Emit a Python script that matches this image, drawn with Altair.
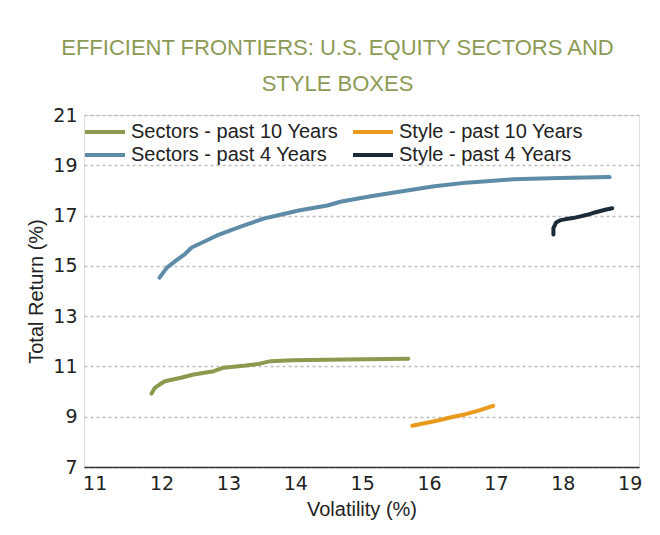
import altair as alt
import pandas as pd

series_names = ["Sectors - past 10 Years", "Sectors - past 4 Years",
                "Style - past 10 Years", "Style - past 4 Years"]
series_colors = ["#8A9A4E", "#5E8BA8", "#E99A1C", "#1B2A38"]

sec10_x = [11.85, 11.90, 11.97, 12.05, 12.29, 12.48, 12.78, 12.93, 13.26, 13.47, 13.63, 13.95, 14.75, 15.69]
sec10_y = [9.92, 10.15, 10.28, 10.41, 10.55, 10.68, 10.81, 10.95, 11.04, 11.11, 11.21, 11.25, 11.28, 11.31]

sec4_x = [11.97, 12.08, 12.21, 12.35, 12.45, 12.61, 12.82, 13.09, 13.30, 13.54, 13.73,
          14.05, 14.48, 14.69, 15.13, 15.60, 16.08, 16.56, 17.26, 17.95, 18.70]
sec4_y = [14.53, 14.93, 15.20, 15.47, 15.73, 15.93, 16.20, 16.47, 16.67, 16.89, 17.00,
          17.20, 17.40, 17.56, 17.77, 17.97, 18.17, 18.31, 18.44, 18.49, 18.53]

sty10_x = [15.75, 15.95, 16.15, 16.35, 16.55, 16.75, 16.96]
sty10_y = [8.64, 8.75, 8.86, 8.99, 9.10, 9.25, 9.43]

sty4_x = [17.86, 17.86, 17.90, 17.97, 18.05, 18.15, 18.25, 18.35, 18.45, 18.55, 18.65, 18.74]
sty4_y = [16.25, 16.50, 16.72, 16.82, 16.86, 16.90, 16.96, 17.02, 17.10, 17.17, 17.24, 17.29]

x_ticks = [11, 12, 13, 14, 15, 16, 17, 18, 19]
y_ticks = [7, 9, 11, 13, 15, 17, 19, 21]

rows = []
for name, xs, ys in [(series_names[0], sec10_x, sec10_y),
                     (series_names[1], sec4_x, sec4_y),
                     (series_names[2], sty10_x, sty10_y),
                     (series_names[3], sty4_x, sty4_y)]:
    for i, (xv, yv) in enumerate(zip(xs, ys)):
        rows.append({"series": name, "vol": xv, "ret": yv, "idx": i})
df = pd.DataFrame(rows)

LABEL_FONT = "Liberation Sans"

chart = alt.Chart(df).mark_line(strokeWidth=4, strokeCap="round", strokeJoin="round").encode(
    x=alt.X("vol:Q",
            scale=alt.Scale(domain=[10.84, 19.14], nice=False, zero=False),
            axis=alt.Axis(values=x_ticks, title="Volatility (%)", grid=False, ticks=False,
                          domainColor="#333333", domainWidth=1.6,
                          labelFont="DejaVu Sans", labelFontSize=19, labelColor="#222222",
                          labelPadding=7, labelFlush=False,
                          titleFont=LABEL_FONT, titleFontSize=20, titleFontWeight="normal",
                          titleColor="#222222", titlePadding=6)),
    y=alt.Y("ret:Q",
            scale=alt.Scale(domain=[7, 21], nice=False, zero=False),
            axis=alt.Axis(values=y_ticks, title="Total Return (%)", grid=True,
                          gridColor="#BDBDBD", gridDash=[3, 3], gridWidth=1.6,
                          ticks=False, domain=False,
                          labelFont="DejaVu Sans", labelFontSize=19, labelColor="#222222",
                          labelPadding=7,
                          titleFont=LABEL_FONT, titleFontSize=20, titleFontWeight="normal",
                          titleColor="#222222", titlePadding=6)),
    color=alt.Color("series:N",
                    scale=alt.Scale(domain=series_names, range=series_colors),
                    legend=alt.Legend(title=None, orient="none", legendX=3, legendY=5,
                                      columns=2, columnPadding=6, rowPadding=1,
                                      symbolType="M-2,0H2", symbolSize=400,
                                      symbolStrokeWidth=4, symbolOffset=6,
                                      labelOffset=14, labelLimit=400,
                                      labelFont=LABEL_FONT, labelFontSize=20,
                                      labelColor="#222222", padding=0)),
    detail="series:N",
    order="idx:Q",
).properties(
    width=555,
    height=352,
    autosize=alt.AutoSizeParams(type="none"),
    padding={"left": 76, "top": 107, "right": 13, "bottom": 60},
    title=alt.TitleParams(
        text=["EFFICIENT FRONTIERS: U.S. EQUITY SECTORS AND", "STYLE BOXES"],
        font=LABEL_FONT, fontSize=22, fontWeight="normal", color="#8C9A55",
        lineHeight=36, anchor="middle", dx=-24, offset=10),
).configure_view(stroke=None).configure(background="white")

chart.save("out.html", embed_options={"renderer": "svg", "actions": False})
